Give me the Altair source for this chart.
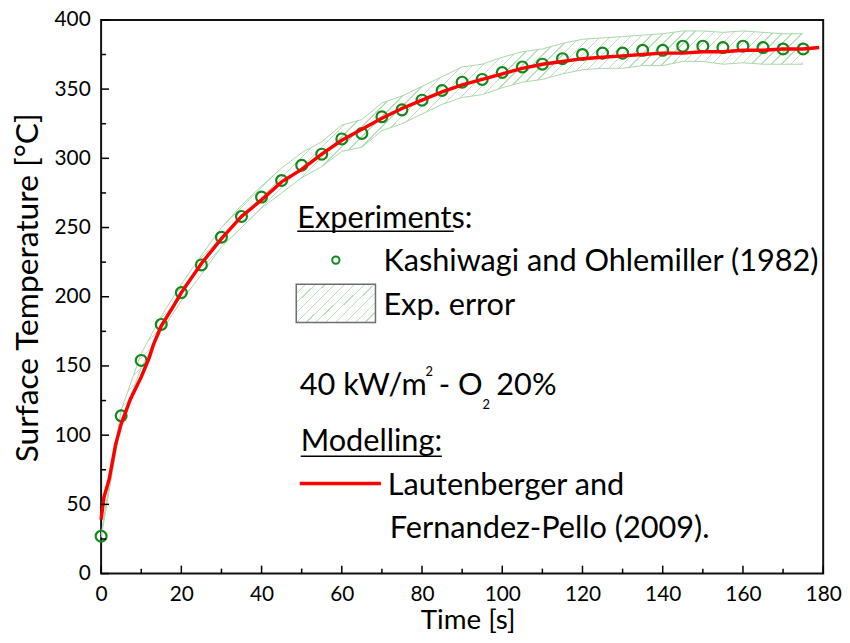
import altair as alt
import pandas as pd

# ---------------- data ----------------
time_exp = [0, 5, 10, 15, 20, 25, 30, 35, 40, 45, 50, 55, 60, 65, 70, 75, 80, 85,
            90, 95, 100, 105, 110, 115, 120, 125, 130, 135, 140, 145, 150, 155, 160, 165, 170, 175]
temp_exp = [27, 114, 154, 180, 203, 223, 243, 258, 272, 284, 295, 303, 314, 318, 330, 335, 342, 349,
            355, 357, 362, 366, 368, 372, 375, 376, 376, 378, 378, 381, 381, 380, 381, 380, 379, 379]
err_upper = [28, 118, 159, 186, 209, 230, 250, 266, 280, 293, 304, 312, 324, 328, 340, 345, 352, 359,
             366, 368, 373, 377, 379, 383, 386, 387, 388, 389, 390, 392, 392, 391, 392, 391, 390, 390]
err_lower = [26, 110, 149, 175, 197, 216, 236, 250, 264, 275, 286, 294, 305, 308, 320, 325, 332, 339,
             344, 346, 351, 355, 357, 361, 364, 365, 365, 367, 367, 370, 370, 368, 369, 368, 368, 368]

time_model = [0, 0.7, 2, 3.6, 5, 7.3, 10, 12, 13, 15, 18, 20, 25, 30, 35, 40, 45, 50, 55, 60, 65,
              70, 75, 80, 85, 90, 95, 100, 105, 110, 115, 120, 125, 130, 135, 140, 145, 150, 155,
              160, 165, 170, 175, 179]
temp_model = [39, 55, 68, 93, 108, 126, 142, 156, 165, 179, 193, 203, 224, 242, 258, 270, 283, 292,
              303, 313, 321, 329, 336, 342, 348, 353, 357, 361, 365, 368, 370, 372, 373, 374, 375,
              376, 376, 377, 377, 378, 378, 379, 379, 380]

x_major = [0, 20, 40, 60, 80, 100, 120, 140, 160, 180]
x_minor = [10, 30, 50, 70, 90, 110, 130, 150, 170]
y_major = [0, 50, 100, 150, 200, 250, 300, 350, 400]
y_minor = [25, 75, 125, 175, 225, 275, 325, 375]

W, H = 729, 559
FONT = "Lato"
GREEN = "#13891a"
HATCH = "#b8e0b8"
LEG = 31

exp_df = pd.DataFrame({"t": time_exp, "T": temp_exp})
band_df = pd.DataFrame({"t": time_exp, "T": err_upper, "lo": err_lower})
edges_df = pd.DataFrame({
    "t": time_exp + time_exp,
    "T": err_upper + err_lower,
    "edge": ["up"] * len(time_exp) + ["lo"] * len(time_exp),
})
model_df = pd.DataFrame({"t": time_model, "T": temp_model})

xscale = alt.Scale(domain=[0, 180], nice=False, zero=False)
yscale = alt.Scale(domain=[0, 400], nice=False, zero=False)
xaxis = alt.Axis(title="Time [s]", values=x_major, grid=False, ticks=False, tickSize=0,
                 domain=False, labelPadding=10, labelFontSize=21, labelFont=FONT,
                 labelColor="black", titleFont=FONT, titleFontSize=28, titleFontWeight="normal",
                 titleColor="black", titleX=370, titleY=55, titleBaseline="alphabetic",
                 labelFlush=False)
yaxis = alt.Axis(title="Surface Temperature [°C]", values=y_major, grid=False, ticks=False,
                 tickSize=0, domain=False, labelPadding=11, labelFontSize=21, labelFont=FONT,
                 labelColor="black", titleFont=FONT, titleFontSize=32, titleFontWeight="normal",
                 titleColor="black", titleX=-74, titleY=270, titleAngle=270,
                 titleAlign="center", titleBaseline="middle", labelFlush=False)

X = alt.X("t:Q", scale=xscale, axis=xaxis)
Y = alt.Y("T:Q", scale=yscale, axis=yaxis)


def hatch(n, frac, x2, y2):
    stops = []
    for i in range(n):
        a = i / n
        m = (i + 1 - frac) / n
        b = (i + 1) / n
        stops += [{"offset": a, "color": "white"}, {"offset": m, "color": "white"},
                  {"offset": m, "color": HATCH}, {"offset": b, "color": HATCH}]
    return {"gradient": "linear", "x1": 0, "y1": 0, "x2": x2, "y2": y2, "stops": stops}


band = alt.Chart(band_df).mark_area(fill=hatch(215, 0.14, 2, 1.44), opacity=1).encode(
    x=X, y=Y, y2=alt.Y2("lo:Q"))
edges = alt.Chart(edges_df).mark_line(color="#a8d8a8", strokeWidth=1).encode(
    x=X, y=Y, detail="edge:N")
points = alt.Chart(exp_df).mark_point(shape="circle", filled=False, size=120, strokeWidth=2.2,
                                      color=GREEN, opacity=1).encode(x=X, y=Y)
model = alt.Chart(model_df).mark_line(color="#ff0000", strokeWidth=3.5).encode(x=X, y=Y)

xt_major = alt.Chart(pd.DataFrame({"t": x_major})).mark_rule(color="black", strokeWidth=1.5).encode(
    x=X, y=alt.value(H), y2=alt.value(H - 8))
xt_minor = alt.Chart(pd.DataFrame({"t": x_minor})).mark_rule(color="black", strokeWidth=1.5).encode(
    x=X, y=alt.value(H), y2=alt.value(H - 5))
yt_major = alt.Chart(pd.DataFrame({"T": y_major})).mark_rule(color="black", strokeWidth=1.5).encode(
    y=Y, x=alt.value(0), x2=alt.value(8))
yt_minor = alt.Chart(pd.DataFrame({"T": y_minor})).mark_rule(color="black", strokeWidth=1.5).encode(
    y=Y, x=alt.value(0), x2=alt.value(5))

one = pd.DataFrame({"k": [0]})


def txt(s, x, y, size=LEG):
    return alt.Chart(one).mark_text(text=s, align="left", baseline="alphabetic", font=FONT,
                                    fontSize=size, color="black").encode(
        x=alt.value(x), y=alt.value(y))


def hline(x1, x2, y, color="black", w=1.5):
    return alt.Chart(one).mark_rule(color=color, strokeWidth=w).encode(
        x=alt.value(x1), x2=alt.value(x2), y=alt.value(y))


legend = [
    txt("Experiments:", 198, 210),
    hline(198, 356, 213.5),
    alt.Chart(one).mark_point(shape="circle", filled=False, size=55, strokeWidth=2,
                              color=GREEN, opacity=1).encode(x=alt.value(237), y=alt.value(242.5)),
    txt("Kashiwagi and Ohlemiller (1982)", 285, 254),
    alt.Chart(one).mark_rect(fill=hatch(20, 0.12, 2, 0.98), stroke="#6e6e6e", strokeWidth=1.5).encode(
        x=alt.value(197), x2=alt.value(277), y=alt.value(267), y2=alt.value(305.5)),
    txt("Exp. error", 285, 298),
    txt("40 kW/m", 200.5, 379),
    txt("2", 327.5, 360, 13),
    txt("- O", 341, 379),
    txt("2", 385, 393, 13),
    txt("20%", 399, 379),
    txt("Modelling:", 201.5, 435),
    hline(201.5, 344, 440.5),
    hline(200.5, 282.5, 468, color="#ff0000", w=3.5),
    txt("Lautenberger and", 289.5, 480),
    txt("Fernandez-Pello (2009).", 291.5, 523),
]

chart = alt.layer(band, edges, points, model, xt_major, xt_minor, yt_major, yt_minor,
                  *legend).properties(
    width=W, height=H,
    autosize=alt.AutoSizeParams(type="none"),
    padding={"left": 94, "top": 9, "right": 19, "bottom": 59},
    background="white",
).configure_view(stroke="#111111", strokeWidth=2).configure_text(font=FONT)

chart.save("out.html", embed_options={"renderer": "svg", "actions": False})
